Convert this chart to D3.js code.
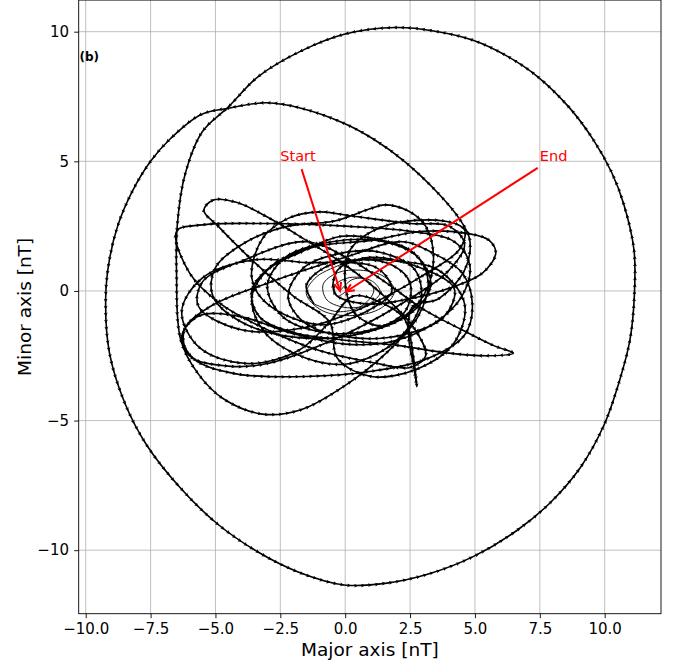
<!DOCTYPE html>
<html><head><meta charset="utf-8">
<script src="https://cdn.jsdelivr.net/npm/d3@7"></script>
<style>body{margin:0;background:#fff}svg{display:block;font-family:"DejaVu Sans",sans-serif}</style>
</head><body><svg id="c" width="675" height="667"></svg>
<script>
// ---------- data ----------
const xTicks = [-10, -7.5, -5, -2.5, 0, 2.5, 5, 7.5, 10];
const yTicks = [-10, -5, 0, 5, 10];
const xLimits = [-10.27, 12.17];
const yLimits = [-12.45, 11.22];

// hodogram path (major, minor) in nT
const hodoStart = [
  [-0.2,0.0],[0.3,0.45],[1.0,0.4],[1.35,-0.05],[0.9,-0.5],[0.1,-0.65],[-0.7,-0.35],[-0.85,0.25],
  [-0.3,0.7],[0.6,0.8],[1.5,0.55],[1.9,0.0],[1.4,-0.65],[0.3,-0.95],[-0.9,-0.75],[-1.5,-0.1],
  [-1.1,0.55],[-0.2,1.0]
];
const hodoMain = [
  [-0.2,1.0],[1.0,1.3],[2.6,1.0],[4.2,0.1],[3.8,-1.0],[2.2,-1.7],[0.3,-1.8],[-1.6,-1.2],[-2.2,-0.2],[-1.6,0.9],
  [-0.2,1.45],[1.3,1.5],[2.7,0.8],[2.9,-0.5],[2.0,-1.9],[0.2,-2.8],[-1.5,-2.6],[-3.1,-1.6],[-3.6,-0.3],[-3.0,0.8],[-1.7,1.5],
  [-0.2,2.1],[1.2,2.0],[2.6,1.5],[3.3,0.3],[2.6,-0.8],[0.8,-1.6],[-1.8,-1.8],[-4.0,-1.2],[-5.1,-0.2],[-5.0,0.9],[-3.8,1.9],[-2.2,2.5],
  [-0.4,2.7],[0.9,3.15],[1.5,3.32],[2.4,3.1],[3.1,2.5],[3.4,1.4],[3.2,0.2],[2.5,-0.8],[1.4,-1.35],[0.4,-0.9],[0.0,0.3],[0.2,1.6],
  [1.5,2.5],[3.8,2.7],[4.6,2.35],[4.4,1.6],[3.0,0.6],[1.0,-0.5],[-1.5,-1.4],[-4.0,-1.5],[-5.65,-0.6],[-5.5,0.35],[-4.0,1.15],[-1.5,1.9],
  [0.2,1.2],[1.6,0.3],[3.0,-0.7],[4.5,-1.5],[5.7,-2.1],[6.48,-2.4],[5.5,-2.5],[4.0,-2.4],[2.0,-2.1],[0.0,-1.9],[-2.0,-1.6],[-3.3,-1.0],[-3.6,0.0],[-2.8,1.0],[-1.2,1.7],
  [1.0,1.95],[3.0,2.3],[4.8,2.2],[5.55,1.95],[5.8,1.45],[5.3,0.7],[4.0,0.1],[2.5,-0.3],[0.8,-0.5],[-0.4,-0.1],[-0.3,0.8],[0.6,1.2],
  [2.0,1.15],[3.6,0.8],[4.6,-0.5],[4.2,-2.0],[2.8,-3.0],[1.0,-3.3],[-0.3,-2.6],[-0.6,-1.2],
  [-2.0,-0.2],[-3.6,1.2],[-4.9,2.5],[-5.45,3.1],[-5.1,3.5],[-4.2,3.42],[-3.0,2.85],[-1.5,1.95],[0.0,1.0],[1.5,-0.2],[2.7,-1.5],[3.1,-2.5],[2.5,-2.95],[1.0,-2.75],[-1.0,-2.3],[-3.0,-1.5],[-4.8,-0.5],[-6.0,0.7],[-6.5,2.3],
  [-5.5,2.55],[-3.0,2.6],[0.0,2.5],[2.5,2.3],[4.2,1.9],[4.8,1.0],[4.5,-0.2],[3.5,-1.2],[1.8,-1.95],[0.0,-2.05],[-2.0,-1.65],
  [-4.0,-1.0],[-5.6,-0.95],[-6.3,-1.75],[-5.8,-2.65],[-4.2,-3.2],[-1.5,-3.3],[1.0,-3.1],[3.2,-2.6],[4.6,-1.7],[4.9,-0.5],[4.5,0.7],[3.3,1.5],
  [2.2,1.9],[0.0,1.3],[-3.0,0.3],[-5.2,-0.6],[-6.2,-1.5],[-6.0,-2.5],[-4.5,-2.9],[-3.0,-2.8],[-0.5,-1.9],[2.0,-0.6],[4.0,0.8],[4.6,1.8],[4.0,2.5],[2.5,2.6],
  [0.2,2.9],[-1.0,3.05],[-2.2,2.8],[-3.2,2.0],[-3.6,0.5],[-3.0,-0.5],[-1.0,-1.3],[0.8,-0.8],[1.8,0.0],
  [1.2,0.9],[-1.6,1.1],[-3.5,1.2],[-5.5,0.5],[-6.3,-0.8],[-5.6,-2.2],[-3.8,-2.8],[-1.8,-2.3],[-0.6,-1.2],[0.3,-0.2],
  [1.5,-0.5],[2.3,-1.1],[2.62,-2.5],[2.76,-3.69],[2.64,-2.9],[2.45,-1.8],[2.6,-0.6],
  [3.6,-0.3],[4.6,0.8],[4.8,1.97],[4.43,2.74],[3.6,3.75],[2.28,5.0],[1.1,5.85],[-0.05,6.47],[-1.7,7.05],[-3.03,7.26],[-4.5,7.05],
  [-5.57,6.8],[-6.74,5.87],[-7.5,5.0],[-8.19,3.87],[-8.75,2.56],[-9.09,1.18],[-9.23,-0.24],[-9.09,-2.36],[-8.49,-4.33],[-7.64,-5.96],
  [-6.34,-7.61],[-4.92,-8.99],[-3.36,-10.07],[-1.79,-10.85],[-0.05,-11.34],[1.61,-11.27],[3.27,-10.9],[4.95,-10.24],[6.6,-9.25],
  [7.9,-8.17],[9.07,-6.8],[9.97,-5.18],[10.56,-3.5],[10.97,-1.91],[11.14,-0.24],[11.13,1.57],[10.73,3.36],[10.27,4.57],[9.57,5.82],
  [8.63,7.08],[7.41,8.27],[6.29,9.03],[4.93,9.67],[3.41,10.03],[1.95,10.16],[0.03,9.92],[-1.69,9.26],[-3.35,8.27],
  [-4.5,7.1],[-5.5,6.15],[-6.17,4.5],[-6.47,2.55],[-6.5,0.74],[-6.34,-1.88],[-5.67,-3.19],[-4.68,-4.17],[-3.19,-4.75],[-1.7,-4.58],
  [-0.05,-3.68],[1.61,-2.37],[2.8,-1.0],[3.2,0.3],
  [2.8,1.3],[1.5,1.9],[-0.5,1.9],[-2.3,1.3],[-3.0,0.2],[-2.4,-1.0],[-0.8,-1.6],[1.0,-1.5],[2.3,-0.8],[2.5,0.3],[1.8,1.0],[0.5,1.2],
  [-0.8,0.9],[-1.5,0.2],[-1.2,-0.5]
];
const hodoEnd = [
  [-1.2,-0.5],[-0.3,-0.8],[0.6,-0.6],[1.1,0.0],[0.8,0.45],[0.1,0.5],[-0.4,0.2],[-0.3,-0.2],[0.05,0.0]
];

const annotLabels = ["Start", "End"];
const annotTexts = [[-2.5, 5.0], [7.5, 5.0]];
const annotTails = [[-1.68, 4.7], [7.42, 4.75]];
const annotTargets = [[-0.2, 0.0], [0.03, -0.03]];

const panelLabel = "(b)";
const xTitle = "Major axis [nT]";
const yTitle = "Minor axis [nT]";

// ---------- layout ----------
const svg = d3.select("#c");
const L = 78.7, R = 661, T = 0.07, B = 613.7;
const x = d3.scaleLinear().domain(xLimits).range([L, R]);
const y = d3.scaleLinear().domain(yLimits).range([B, T]);

svg.append("defs").append("clipPath").attr("id", "clip")
  .append("rect").attr("x", L).attr("y", T).attr("width", R - L).attr("height", B - T);

// grid
const grid = svg.append("g").attr("stroke", "#b0b0b0").attr("stroke-width", 0.8);
xTicks.forEach(t => grid.append("line").attr("x1", x(t)).attr("x2", x(t)).attr("y1", T).attr("y2", B));
yTicks.forEach(t => grid.append("line").attr("y1", y(t)).attr("y2", y(t)).attr("x1", L).attr("x2", R));

// hodogram
const plot = svg.append("g").attr("clip-path", "url(#clip)");
const line = d3.line().x(d => x(d[0])).y(d => y(d[1])).curve(d3.curveCatmullRom.alpha(0.5));

function drawSeg(data, width, step, size) {
  const p = plot.append("path").attr("d", line(data)).attr("fill", "none")
    .attr("stroke", "#000").attr("stroke-width", width).attr("stroke-linejoin", "round");
  if (!step) return;
  const node = p.node(), len = node.getTotalLength();
  const g = plot.append("g").attr("fill", "#000");
  const mk = `M${size},0L${-size},${-size * 0.95}L${-size * 0.6},0L${-size},${size * 0.95}Z`;
  for (let s = step / 2; s < len - 0.5; s += step) {
    const a = node.getPointAtLength(s), b = node.getPointAtLength(Math.min(len, s + 0.8));
    const ang = Math.atan2(b.y - a.y, b.x - a.x) * 180 / Math.PI;
    g.append("path").attr("d", mk)
      .attr("transform", `translate(${a.x.toFixed(2)},${a.y.toFixed(2)}) rotate(${ang.toFixed(1)})`);
  }
}
drawSeg(hodoStart, 0.9, 0, 0);
drawSeg(hodoMain, 1.6, 7, 2.0);
drawSeg(hodoEnd, 0.9, 0, 0);

// axes
const gx = svg.append("g").attr("transform", `translate(0,${B})`).call(d3.axisBottom(x).tickValues(xTicks).tickSize(4.5).tickPadding(4.8)
  .tickFormat(v => (v < 0 ? "\u2212" : "") + Math.abs(v).toFixed(1)));
const gy = svg.append("g").attr("transform", `translate(${L},0)`).call(d3.axisLeft(y).tickValues(yTicks).tickSize(4.5).tickPadding(5.2)
  .tickFormat(v => (v < 0 ? "\u2212" : "") + Math.abs(v)));
[gx, gy].forEach(g => {
  g.select(".domain").remove();
  g.selectAll("text").attr("font-size", 15).attr("font-family", "DejaVu Sans").attr("fill", "#000");
  g.selectAll("line").attr("stroke", "#000").attr("stroke-width", 0.9);
});

// spines
svg.append("rect").attr("x", L).attr("y", T).attr("width", R - L).attr("height", B - T)
  .attr("fill", "none").attr("stroke", "#000").attr("stroke-width", 0.9);

// titles
svg.append("text").attr("x", (L + R) / 2).attr("y", 656).attr("text-anchor", "middle")
  .attr("font-size", 18.5).text(xTitle);
svg.append("text").attr("transform", `translate(30.5,${(T + B) / 2}) rotate(-90)`).attr("text-anchor", "middle")
  .attr("font-size", 18.5).text(yTitle);
svg.append("text").attr("x", 79.5).attr("y", 60.5).attr("font-size", 12).attr("font-weight", "bold").text(panelLabel);

// annotations
const ann = svg.append("g");
annotLabels.forEach((lab, i) => {
  ann.append("text").attr("x", x(annotTexts[i][0])).attr("y", y(annotTexts[i][1]))
    .attr("fill", "#ff0000").attr("font-size", 14.5).text(lab);
  const x1 = x(annotTails[i][0]), y1 = y(annotTails[i][1]);
  const x2 = x(annotTargets[i][0]), y2 = y(annotTargets[i][1]);
  const a = Math.atan2(y2 - y1, x2 - x1);
  const hl = 9, hw = 0.42;
  ann.append("line").attr("x1", x1).attr("y1", y1).attr("x2", x2).attr("y2", y2)
    .attr("stroke", "#ff0000").attr("stroke-width", 2);
  ann.append("path").attr("d",
    `M${x2 - hl * Math.cos(a - hw)},${y2 - hl * Math.sin(a - hw)}L${x2},${y2}L${x2 - hl * Math.cos(a + hw)},${y2 - hl * Math.sin(a + hw)}`)
    .attr("fill", "none").attr("stroke", "#ff0000").attr("stroke-width", 2).attr("stroke-linejoin", "miter");
});
</script></body></html>
